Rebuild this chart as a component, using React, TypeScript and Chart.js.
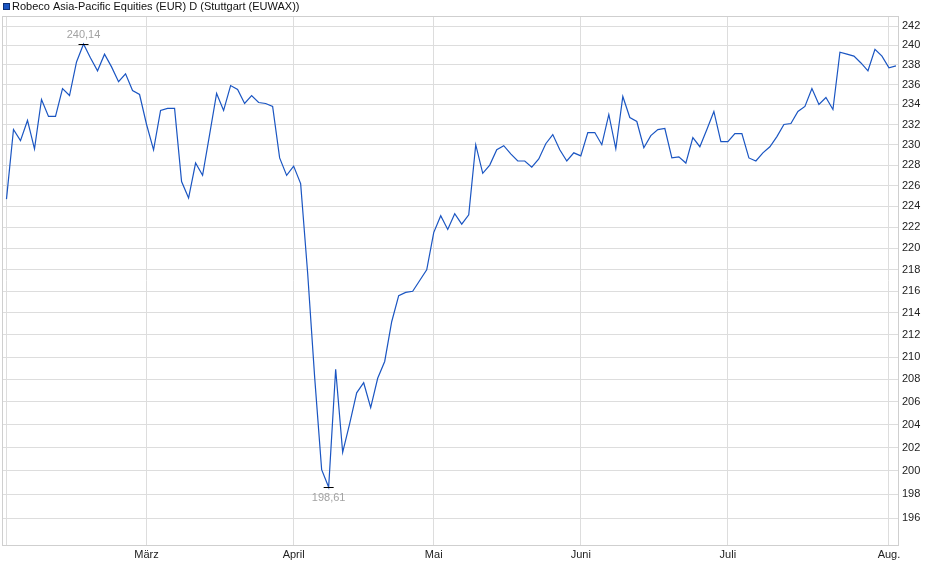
import { useEffect, useRef } from "react";
import { Chart, registerables } from "chart.js";

Chart.register(...registerables);

const TITLE = "Robeco Asia-Pacific Equities (EUR) D (Stuttgart (EUWAX))";

// daily closes (trading days), grouped per month
const febValues = [224.7, 231.5, 230.4, 232.4, 229.6, 234.5, 232.8, 232.8, 235.6, 234.9, 238.3, 240.14, 238.7, 237.4, 239.1, 237.8, 236.3, 237.1, 235.4, 235.0];
const marValues = [232.0, 229.5, 233.4, 233.6, 233.6, 226.4, 224.8, 228.2, 227.0, 231.0, 235.1, 233.4, 235.9, 235.5, 234.1, 234.9, 234.2, 234.1, 233.8, 228.7, 227.0];
const aprValues = [227.9, 226.2, 217.7, 208.2, 200.1, 198.61, 208.9, 201.6, 204.1, 206.8, 207.7, 205.5, 208.1, 209.6, 213.2, 215.6, 215.9, 216.0, 217.0, 218.0];
const mayValues = [221.5, 223.1, 221.8, 223.3, 222.3, 223.2, 230.0, 227.2, 228.0, 229.5, 229.9, 229.1, 228.4, 228.4, 227.8, 228.6, 230.1, 231.0, 229.5, 228.4, 229.2];
const junValues = [228.9, 231.2, 231.2, 230.0, 233.0, 229.6, 234.8, 232.7, 232.3, 229.7, 230.9, 231.5, 231.6, 228.7, 228.8, 228.2, 230.7, 229.8, 231.5, 233.3, 230.3];
const julValues = [230.3, 231.1, 231.1, 228.7, 228.4, 229.2, 229.8, 230.8, 232.0, 232.1, 233.3, 233.8, 235.6, 234.0, 234.7, 233.5, 239.3, 239.1, 238.9, 238.2, 237.4, 239.6, 238.9];
const augValues = [237.7, 237.9];

const months = [febValues, marValues, aprValues, mayValues, junValues, julValues, augValues];
const monthLabels = ["", "März", "April", "Mai", "Juni", "Juli", "Aug."];
const yTicks = [196, 198, 200, 202, 204, 206, 208, 210, 212, 214, 216, 218, 220, 222, 224, 226, 228, 230, 232, 234, 236, 238, 240, 242];

const Y_MIN = 193.75;
const Y_MAX = 243.04;
const X_MIN = -0.64;
const X_MAX = 127.29;

const FONT = '"Liberation Sans", Arial, sans-serif';
const LINE_COLOR = "#1a55c2";
const GRID_COLOR = "#dddddd";
const FRAME_COLOR = "#cfcfcf";

export default function App() {
  const ref = useRef<HTMLCanvasElement | null>(null);

  useEffect(() => {
    const canvas = ref.current;
    if (!canvas) return;

    const values: number[] = ([] as number[]).concat(...months);
    const monthStarts: number[] = [];
    let acc = 0;
    for (const m of months) {
      monthStarts.push(acc);
      acc += m.length;
    }
    const points = values.map((v, i) => ({ x: i, y: v }));

    const framePlugin = {
      id: "frame",
      beforeDatasetsDraw(chart: any) {
        const { ctx, chartArea } = chart;
        ctx.save();
        ctx.strokeStyle = FRAME_COLOR;
        ctx.lineWidth = 1;
        ctx.strokeRect(
          Math.round(chartArea.left) + 0.5,
          Math.round(chartArea.top) + 0.5,
          Math.round(chartArea.right - chartArea.left),
          Math.round(chartArea.bottom - chartArea.top)
        );
        ctx.restore();
      },
    };

    const titlePlugin = {
      id: "titleLegend",
      afterDraw(chart: any) {
        const { ctx } = chart;
        ctx.save();
        ctx.fillStyle = LINE_COLOR;
        ctx.fillRect(3, 3, 7, 7);
        ctx.strokeStyle = "#0c2f75";
        ctx.lineWidth = 1;
        ctx.strokeRect(3.5, 3.5, 6, 6);
        ctx.fillStyle = "#111111";
        ctx.font = `11px ${FONT}`;
        ctx.textAlign = "left";
        ctx.textBaseline = "middle";
        ctx.fillText(TITLE, 12, 7);
        ctx.restore();
      },
    };

    const extremesPlugin = {
      id: "extremes",
      afterDatasetsDraw(chart: any) {
        const { ctx, scales } = chart;
        let maxI = 0;
        let minI = 0;
        values.forEach((v, i) => {
          if (v > values[maxI]) maxI = i;
          if (v < values[minI]) minI = i;
        });
        const draw = (i: number, above: boolean) => {
          const x = scales.x.getPixelForValue(i);
          const y = scales.y.getPixelForValue(values[i]);
          ctx.save();
          ctx.strokeStyle = "#000000";
          ctx.lineWidth = 1;
          ctx.beginPath();
          const yy = Math.round(y) + 0.5;
          ctx.moveTo(x - 5, yy);
          ctx.lineTo(x + 5, yy);
          ctx.stroke();
          ctx.fillStyle = "#a2a2a2";
          ctx.font = `11px ${FONT}`;
          ctx.textAlign = "center";
          ctx.textBaseline = "middle";
          const label = values[i].toFixed(2).replace(".", ",");
          ctx.fillText(label, x, above ? y - 9 : y + 11);
          ctx.restore();
        };
        draw(maxI, true);
        draw(minI, false);
      },
    };

    const chart = new Chart(canvas, {
      type: "line",
      data: {
        datasets: [
          {
            label: TITLE,
            data: points,
            borderColor: LINE_COLOR,
            borderWidth: 1.2,
            pointRadius: 0,
            tension: 0,
            fill: false,
          },
        ],
      },
      options: {
        animation: false,
        responsive: false,
        devicePixelRatio: 1,
        layout: { padding: { top: 16, left: 2, right: 0, bottom: 0 } },
        plugins: {
          legend: { display: false },
          tooltip: { enabled: false },
        },
        scales: {
          x: {
            type: "linear",
            min: X_MIN,
            max: X_MAX,
            afterBuildTicks(axis: any) {
              axis.ticks = monthStarts.map((v) => ({ value: v }));
            },
            afterFit(axis: any) {
              axis.height = 34;
            },
            ticks: {
              autoSkip: false,
              maxRotation: 0,
              padding: 3,
              color: "#222222",
              font: { family: FONT, size: 11 },
              callback: (_v: any, idx: number) => monthLabels[idx] ?? "",
            },
            grid: { color: GRID_COLOR, drawTicks: false, lineWidth: 1 },
            border: { display: false },
          },
          y: {
            type: "logarithmic",
            position: "right",
            min: Y_MIN,
            max: Y_MAX,
            afterBuildTicks(axis: any) {
              axis.ticks = yTicks.map((v) => ({ value: v }));
            },
            afterFit(axis: any) {
              axis.width = 42;
            },
            ticks: {
              autoSkip: false,
              padding: 4,
              color: "#222222",
              font: { family: FONT, size: 11 },
              callback: (v: any) => String(v),
            },
            grid: { color: GRID_COLOR, drawTicks: false, lineWidth: 1 },
            border: { display: false },
          },
        },
      },
      plugins: [framePlugin, extremesPlugin, titlePlugin],
    } as any);

    return () => chart.destroy();
  }, []);

  return (
    <div style={{ position: "absolute", left: 0, top: 0, width: 940, height: 579, background: "#ffffff" }}>
      <canvas ref={ref} width={940} height={579} style={{ width: 940, height: 579, display: "block" }} />
    </div>
  );
}
